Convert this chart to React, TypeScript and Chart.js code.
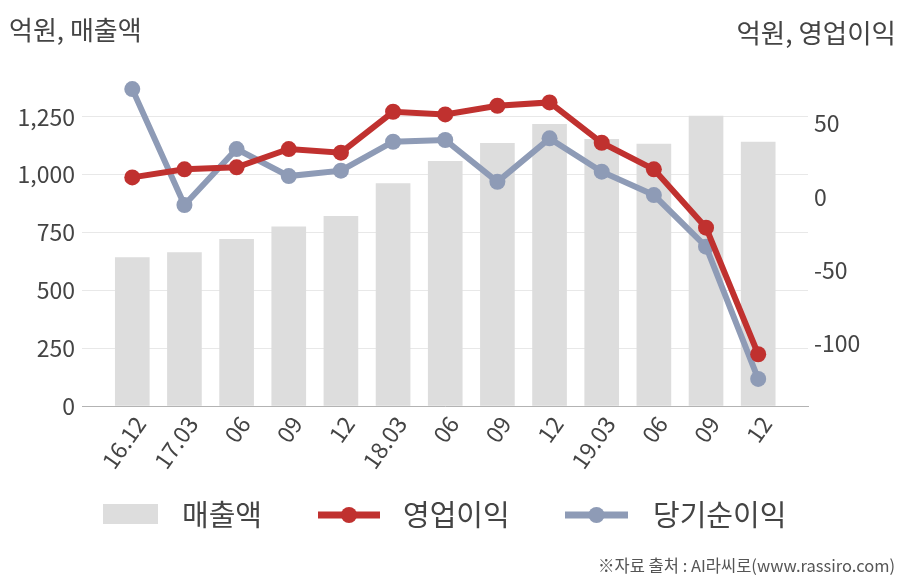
import React, { useEffect, useRef } from "react";
import { Chart, registerables } from "chart.js";

Chart.register(...registerables);

const categories = ["16.12", "17.03", "06", "09", "12", "18.03", "06", "09", "12", "19.03", "06", "09", "12"];
const salesValues = [642, 663, 720, 774, 820, 962, 1058, 1136, 1218, 1153, 1132, 1253, 1141];
const operatingProfit = [13.3, 18.8, 20.2, 32.7, 30.2, 58.2, 56.4, 62.3, 64.6, 37.0, 18.8, -21.1, -107.7];
const netIncome = [73.7, -5.6, 32.7, 14.2, 17.9, 37.7, 38.9, 10.3, 40.0, 17.2, 1.2, -34.1, -124.6];
const leftTicks = [0, 250, 500, 750, 1000, 1250];
const rightTicks = [-100, -50, 0, 50];
const seriesNames = ["매출액", "영업이익", "당기순이익"];
const leftTitle = "억원, 매출액";
const rightTitle = "억원, 영업이익";
const sourceNote = "※자료 출처 : AI라씨로(www.rassiro.com)";

const FONT = '"Noto Sans CJK KR", "Noto Sans", sans-serif';
const BAR_COLOR = "#dddddd";
const RED = "#c0312f";
const BLUE = "#8e9bb6";
const TEXT = "#444444";

const overlayPlugin = {
  id: "overlay",
  afterDraw(chart: any) {
    const ctx = chart.ctx;
    ctx.save();
    ctx.fillStyle = TEXT;
    ctx.textBaseline = "middle";
    ctx.font = `26px ${FONT}`;
    ctx.textAlign = "left";
    ctx.fillText(leftTitle, 9, 30);
    ctx.textAlign = "right";
    ctx.font = `26.5px ${FONT}`;
    ctx.fillText(rightTitle, 896, 33);

    // legend
    const ly = 515;
    ctx.fillStyle = BAR_COLOR;
    ctx.fillRect(103, 504, 55, 20);
    ctx.font = `29px ${FONT}`;
    ctx.textAlign = "left";
    ctx.fillStyle = TEXT;
    ctx.fillText(seriesNames[0], 182, ly);

    const drawLineKey = (x0: number, x1: number, color: string) => {
      ctx.strokeStyle = color;
      ctx.lineWidth = 7;
      ctx.beginPath();
      ctx.moveTo(x0, ly);
      ctx.lineTo(x1, ly);
      ctx.stroke();
      ctx.fillStyle = color;
      ctx.beginPath();
      ctx.arc((x0 + x1) / 2, ly, 8, 0, Math.PI * 2);
      ctx.fill();
    };
    drawLineKey(318, 380, RED);
    ctx.fillStyle = TEXT;
    ctx.fillText(seriesNames[1], 403, ly);
    drawLineKey(565, 628, BLUE);
    ctx.fillStyle = TEXT;
    ctx.fillText(seriesNames[2], 653, ly);

    ctx.font = `16.5px ${FONT}`;
    ctx.textAlign = "right";
    ctx.fillStyle = "#555555";
    ctx.fillText(sourceNote, 895, 566);
    ctx.restore();
  },
};

export default function App() {
  const ref = useRef<HTMLCanvasElement | null>(null);

  useEffect(() => {
    document.body.style.margin = "0";
    const canvas = ref.current;
    if (!canvas) return;
    Chart.defaults.font.family = FONT;
    const chart = new Chart(canvas, {
      type: "bar",
      data: {
        datasets: [
          {
            type: "line",
            label: seriesNames[1],
            data: operatingProfit.map((v, i) => ({ x: i, y: v })),
            yAxisID: "y1",
            xAxisID: "x",
            borderColor: RED,
            backgroundColor: RED,
            pointBackgroundColor: RED,
            borderWidth: 6,
            pointRadius: 8,
            pointHoverRadius: 8,
            pointBorderWidth: 0,
            tension: 0,
            order: 1,
          } as any,
          {
            type: "line",
            label: seriesNames[2],
            data: netIncome.map((v, i) => ({ x: i, y: v })),
            yAxisID: "y1",
            xAxisID: "x",
            borderColor: BLUE,
            backgroundColor: BLUE,
            pointBackgroundColor: BLUE,
            borderWidth: 6,
            pointRadius: 8,
            pointHoverRadius: 8,
            pointBorderWidth: 0,
            tension: 0,
            order: 2,
          } as any,
          {
            type: "bar",
            label: seriesNames[0],
            data: salesValues.map((v, i) => ({ x: i, y: v })),
            yAxisID: "y",
            xAxisID: "x",
            backgroundColor: BAR_COLOR,
            barThickness: 34,
            order: 3,
          } as any,
        ],
      },
      options: {
        animation: false,
        responsive: false,
        devicePixelRatio: 1,
        layout: { padding: { top: 59, left: 0, right: 0, bottom: 0 } },
        plugins: { legend: { display: false }, tooltip: { enabled: false } },
        scales: {
          x: {
            type: "linear",
            offset: false,
            min: -0.964,
            max: 12.955,
            grid: { display: false, drawTicks: false, offset: false },
            border: { display: true, color: "#b3b3b3", width: 1 },
            ticks: {
              autoSkip: false,
              minRotation: 55,
              maxRotation: 55,
              padding: 5,
              labelOffset: 8,
              color: TEXT,
              font: { size: 23, family: FONT },
              callback: (_v: any, idx: number) => categories[idx] ?? "",
            },
            afterBuildTicks: (s: any) => {
              s.ticks = categories.map((_, i) => ({ value: i }));
            },
            afterFit: (s: any) => {
              s.height = 174;
            },
          },
          y: {
            position: "left",
            min: 0,
            max: 1500,
            grid: { color: "#e8e8e8", drawTicks: false },
            border: { display: false },
            ticks: {
              padding: 7,
              color: TEXT,
              font: { size: 23, family: FONT },
              callback: (v: any) => Number(v).toLocaleString("en-US"),
            },
            afterBuildTicks: (s: any) => {
              s.ticks = leftTicks.map((v) => ({ value: v }));
            },
            afterFit: (s: any) => {
              s.width = 82;
            },
          },
          y1: {
            position: "right",
            min: -143.1,
            max: 94.3,
            grid: { display: false, drawTicks: false },
            border: { display: false },
            ticks: {
              padding: 6,
              color: TEXT,
              font: { size: 23, family: FONT },
              callback: (v: any) => String(v),
            },
            afterBuildTicks: (s: any) => {
              s.ticks = rightTicks.map((v) => ({ value: v }));
            },
            afterFit: (s: any) => {
              s.width = 100;
            },
          },
        },
      } as any,
      plugins: [overlayPlugin],
    });
    return () => chart.destroy();
  }, []);

  return (
    <div style={{ width: 908, height: 580, background: "#ffffff" }}>
      <canvas ref={ref} width={908} height={580} style={{ width: 908, height: 580, display: "block" }} />
    </div>
  );
}
